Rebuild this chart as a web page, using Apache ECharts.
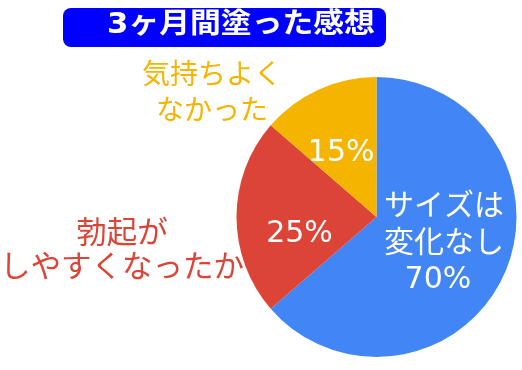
<!DOCTYPE html>
<html>
<head>
<meta charset="utf-8">
<script src="https://cdn.jsdelivr.net/npm/echarts@6/dist/echarts.min.js"></script>
<style>html,body{margin:0;padding:0;background:#fff;}#c{width:522px;height:370px;}</style>
</head>
<body>
<div id="c"></div>
<script>
var titleText = '3ヶ月間塗った感想';
var categories = ['サイズは\n変化なし', '勃起が\nしやすくなったか', '気持ちよく\nなかった'];
var values = [70, 25, 15];
var colors = ['#4285F4', '#DB4437', '#F4B400'];
var FONT = '"Noto Sans CJK JP", "Noto Sans", sans-serif';
var NUMFONT = '"DejaVu Sans", "Noto Sans CJK JP", sans-serif';

var chart = echarts.init(document.getElementById('c'), null, {renderer: 'canvas'});
var data = values.map(function (v, i) {
  return {name: categories[i], value: v, itemStyle: {color: colors[i]}};
});
chart.setOption({
  animation: false,
  graphic: [
    {type: 'rect', shape: {x: 63, y: 8, width: 323, height: 39, r: 8}, style: {fill: '#0000FF'}},
    {type: 'text', x: 107, y: 25.5, scaleX: 1.1, style: {text: titleText, fill: '#fff', font: 'bold 28px ' + NUMFONT, align: 'left', verticalAlign: 'middle'}},
    {type: 'text', x: 212, y: 91, style: {text: categories[2], fill: colors[2], font: '28px ' + FONT, align: 'center', verticalAlign: 'middle', lineHeight: 36}},
    {type: 'text', x: 122, y: 248, style: {text: categories[1], fill: colors[1], font: '30.5px ' + FONT, align: 'center', verticalAlign: 'middle', lineHeight: 34}}
  ],
  series: [{
    type: 'pie',
    center: [376.5, 217],
    radius: 140,
    startAngle: 90,
    clockwise: true,
    data: data,
    label: {
      show: true,
      position: 'inside',
      color: '#fff',
      fontSize: 30,
      fontFamily: NUMFONT,
      formatter: function (p) {
        if (p.dataIndex === 0) {
          return p.name.split('\n').map(function (s) { return '{n|' + s + '}'; }).join('\n') + '\n{q|' + p.value + '%}';
        }
        return '{p|' + p.value + '%}';
      },
      rich: {
        n: {fontSize: 30, fontFamily: FONT, color: '#fff', lineHeight: 37},
        p: {fontSize: 30, fontFamily: NUMFONT, color: '#fff', lineHeight: 42},
        q: {fontSize: 30, fontFamily: NUMFONT, color: '#fff', lineHeight: 43, padding: [0, 12, 0, 0]}
      }
    },
    labelLayout: function (p) {
      if (p.dataIndex === 1) return {dx: -4, dy: 17};
      if (p.dataIndex === 2) return {dx: -5, dy: 3};
      return {dx: 1, dy: -4};
    },
    labelLine: {show: false},
    emphasis: {disabled: true}
  }]
});
</script>
</body>
</html>
